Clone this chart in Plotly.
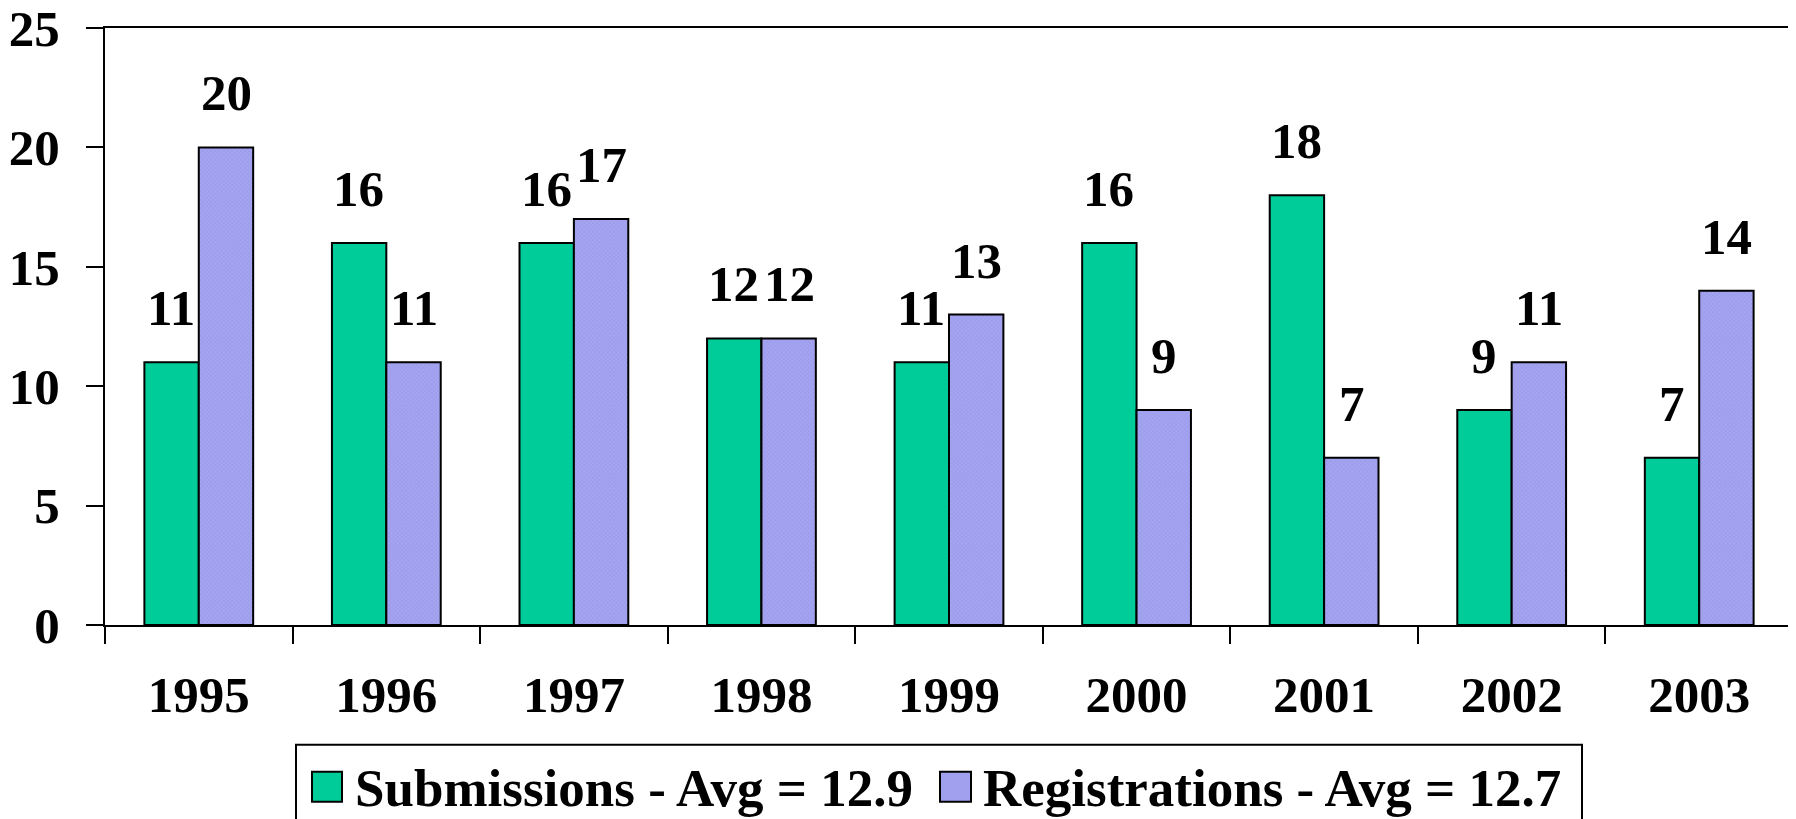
import plotly.graph_objects as go

years = ["1995", "1996", "1997", "1998", "1999", "2000", "2001", "2002", "2003"]
submissions = [11, 16, 16, 12, 11, 16, 18, 9, 7]
registrations = [20, 11, 17, 12, 13, 9, 7, 11, 14]
sub_name = "Submissions - Avg = 12.9"
reg_name = "Registrations - Avg = 12.7"
y_ticks = [0, 5, 10, 15, 20, 25]

FONT = "Liberation Serif, Times New Roman, serif"
GREEN = "#00CC99"
PURPLE = "#A0A0EE"

fig = go.Figure()
fig.add_trace(go.Bar(
    x=years, y=submissions, name=sub_name, showlegend=False,
    marker=dict(color=GREEN, line=dict(color="black", width=2)),
))
fig.add_trace(go.Bar(
    x=years, y=registrations, name=reg_name, showlegend=False,
    marker=dict(color=PURPLE, line=dict(color="black", width=2),
                pattern=dict(shape="x", size=3, solidity=0.25,
                             fgcolor="#8080D8", bgcolor="#A4A4F0")),
))

annotations = []
off = 0.147
for i, (s, r) in enumerate(zip(submissions, registrations)):
    for xv, v in ((i - off, s), (i + off, r)):
        annotations.append(dict(
            x=xv, y=v, xref="x", yref="y", text=str(v), showarrow=False,
            yanchor="bottom", yshift=24,
            font=dict(family=FONT, size=51, color="black", weight="bold"),
        ))

# custom legend (page pixel layout -> paper coordinates)
PL, PR, PT, PB = 105, 1793, 27, 625
def px(X):
    return (X - PL) / (PR - PL)
def py(Y):
    return (PB - Y) / (PB - PT)

shapes = [
    dict(type="rect", xref="paper", yref="paper", x0=px(296), x1=px(1582),
         y0=py(745), y1=py(840), line=dict(color="black", width=2),
         fillcolor="rgba(0,0,0,0)"),
    dict(type="rect", xref="paper", yref="paper", x0=px(312), x1=px(342),
         y0=py(772), y1=py(802), line=dict(color="black", width=2), fillcolor=GREEN),
    dict(type="rect", xref="paper", yref="paper", x0=px(940), x1=px(971),
         y0=py(772), y1=py(802), line=dict(color="black", width=2), fillcolor=PURPLE),
]
for X, name in ((353, sub_name), (981, reg_name)):
    annotations.append(dict(
        x=px(X), y=py(788), xref="paper", yref="paper", text=name,
        showarrow=False, xanchor="left", yanchor="middle",
        font=dict(family=FONT, size=53, color="black", weight="bold"),
    ))

fig.update_layout(
    width=1788, height=811, autosize=False,
    margin=dict(l=97, r=3, t=20, b=194, autoexpand=False),
    paper_bgcolor="white", plot_bgcolor="white",
    barmode="group", bargap=0.42, bargroupgap=0,
    font=dict(family=FONT, size=51, color="black", weight="bold"),
    annotations=annotations, shapes=shapes,
    showlegend=False,
)
fig.update_xaxes(
    type="category", showline=True, linecolor="black", linewidth=2, mirror=True,
    ticks="outside", tickson="boundaries", ticklen=17, tickwidth=2, tickcolor="black",
    ticklabelstandoff=24, showgrid=False, tickangle=0, automargin=False,
    ticklabeloverflow="allow",
)
fig.update_yaxes(
    range=[0, 25], tickvals=y_ticks, showline=True, linecolor="black", linewidth=2,
    mirror=True, ticks="outside", ticklen=17, tickwidth=2, tickcolor="black",
    ticklabelstandoff=16, showgrid=False, zeroline=False, automargin=False,
    ticklabeloverflow="allow",
)

fig.write_html("out.html")
